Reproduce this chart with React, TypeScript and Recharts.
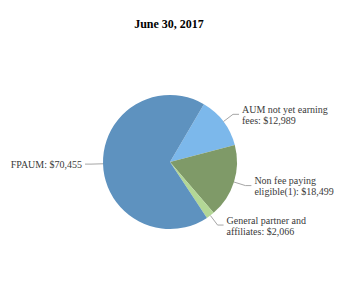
import { PieChart, Pie, Cell } from 'recharts';

// slice order follows the reference, clockwise from the top-right boundary
const categories = ['AUM not yet earning fees', 'Non fee paying eligible(1)', 'General partner and affiliates', 'FPAUM'];
const values = [12989, 18499, 2066, 70455];
const labelLines = [
    ['AUM not yet earning', 'fees: $12,989'],
    ['Non fee paying', 'eligible(1): $18,499'],
    ['General partner and', 'affiliates: $2,066'],
    ['FPAUM: $70,455'],
];
const colors = ['#7CB8EB', '#7F9A68', '#B3D796', '#5E92BF'];

const data = categories.map((name, i) => ({ name, value: values[i] }));

const RAD = Math.PI / 180;
const FONT = '"Liberation Serif", "Times New Roman", serif';

function renderLabel(props: any) {
    const { cx, cy, midAngle, outerRadius, index } = props;
    const cos = Math.cos(-midAngle * RAD);
    const sin = Math.sin(-midAngle * RAD);
    const sx = cx + outerRadius * cos;
    const sy = cy + outerRadius * sin;
    const mx = cx + (outerRadius + 12) * cos;
    const my = cy + (outerRadius + 12) * sin;
    const right = cos >= 0;
    const ex = mx + (right ? 6 : -6);
    const tx = ex + (right ? 3 : -3);
    const lines = labelLines[index];
    const lh = 11;
    const top = my - ((lines.length - 1) * lh) / 2;
    return (
        <g>
            <path d={`M${sx},${sy}L${mx},${my}L${ex},${my}`} stroke="#A6A6A6" strokeWidth={1} fill="none" />
            <text
                x={tx}
                y={top}
                textAnchor={right ? 'start' : 'end'}
                dominantBaseline="central"
                fontFamily={FONT}
                fontSize={10}
                fill="#3A3A3A"
            >
                {lines.map((l, i) => (
                    <tspan key={i} x={tx} dy={i === 0 ? 0 : lh}>{l}</tspan>
                ))}
            </text>
        </g>
    );
}

export default function App() {
    return (
        <div style={{ position: 'absolute', left: 0, top: 0, width: 338, height: 298, background: '#fff' }}>
            <div
                style={{
                    position: 'absolute', left: 0, top: 17, width: 338, textAlign: 'center',
                    fontFamily: FONT, fontWeight: 'bold', fontSize: 12, color: '#000',
                }}
            >
                June 30, 2017
            </div>
            <PieChart width={338} height={298}>
                <Pie
                    data={data}
                    dataKey="value"
                    nameKey="name"
                    cx={165}
                    cy={157}
                    outerRadius={67}
                    startAngle={59.6}
                    endAngle={-300.4}
                    stroke="none"
                    label={renderLabel}
                    labelLine={false}
                    isAnimationActive={false}
                >
                    {data.map((d, i) => (
                        <Cell key={d.name} fill={colors[i]} />
                    ))}
                </Pie>
            </PieChart>
        </div>
    );
}
